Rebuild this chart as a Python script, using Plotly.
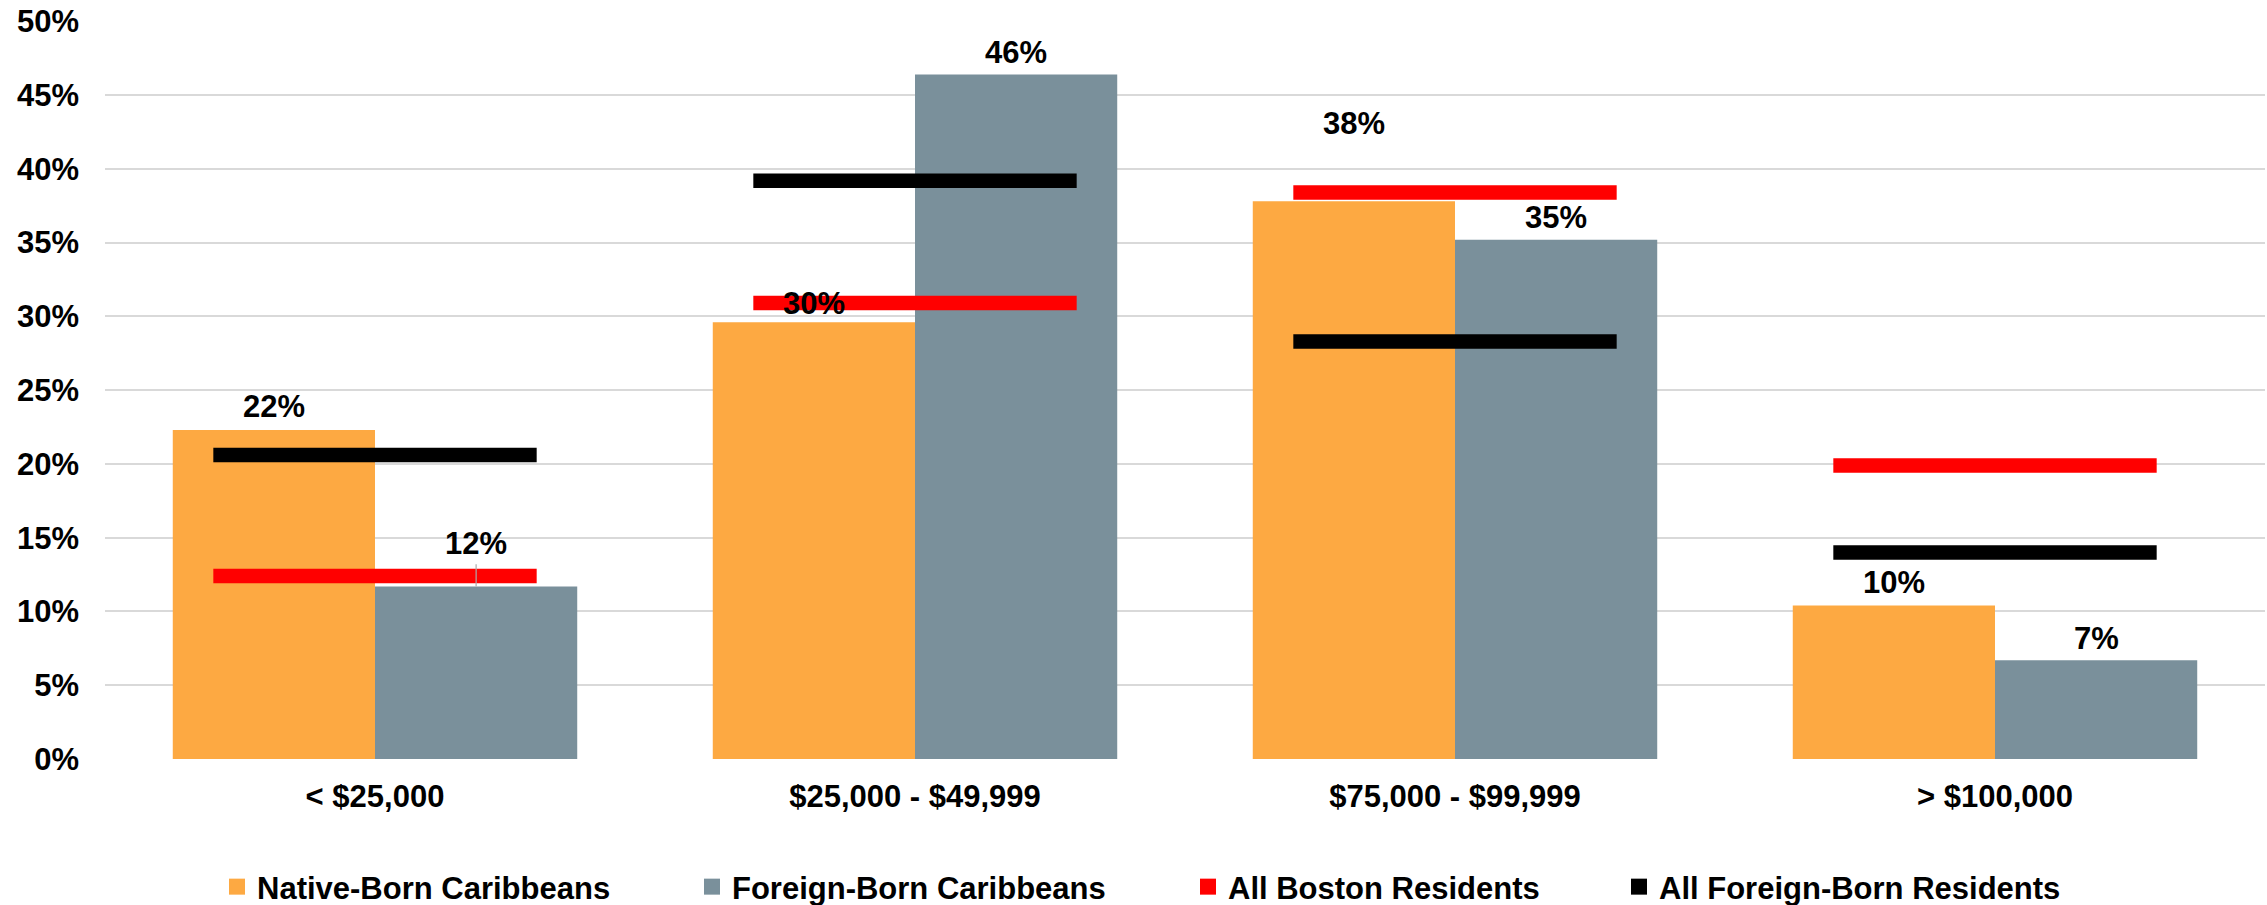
import plotly.graph_objects as go

# ---------------- data ----------------
categories = ["< $25,000", "$25,000 - $49,999", "$75,000 - $99,999", "> $100,000"]
native_born = [22.3, 29.6, 37.8, 10.4]
foreign_born = [11.7, 46.4, 35.2, 6.7]
all_boston = [12.4, 30.9, 38.4, 19.9]
all_foreign_born = [20.6, 39.2, 28.3, 14.0]
y_ticks = [0, 5, 10, 15, 20, 25, 30, 35, 40, 45, 50]
y_tick_labels = [f"{t}%" for t in y_ticks]

series_names = ["Native-Born Caribbeans", "Foreign-Born Caribbeans",
                "All Boston Residents", "All Foreign-Born Residents"]
colors = ["#FDA942", "#7A909B", "#FF0000", "#000000"]

# label vertical offsets (px) as placed in the original
native_shift = [23, 19, 78, 23]
foreign_shift = [43, 22, 22, 22]

FONT = "Liberation Sans, Arial, sans-serif"
FS = 31
BAR_W = 0.3745
LINE_HALF = 0.2994

W, H = 2267, 905

xs = list(range(len(categories)))

fig = go.Figure()

fig.add_trace(go.Bar(x=xs, y=native_born, width=BAR_W, offset=-BAR_W,
                     marker=dict(color=colors[0], line=dict(width=0)),
                     showlegend=False, hoverinfo="skip"))
fig.add_trace(go.Bar(x=xs, y=foreign_born, width=BAR_W, offset=0,
                     marker=dict(color=colors[1], line=dict(width=0)),
                     showlegend=False, hoverinfo="skip"))


def seg(vals):
    lx, ly = [], []
    for i, v in enumerate(vals):
        lx += [i - LINE_HALF, i + LINE_HALF, None]
        ly += [v, v, None]
    return lx, ly


for vals, col in [(all_boston, colors[2]), (all_foreign_born, colors[3])]:
    lx, ly = seg(vals)
    fig.add_trace(go.Scatter(x=lx, y=ly, mode="lines",
                             line=dict(color=col, width=14.5),
                             showlegend=False, hoverinfo="skip"))

# thin leader line from the first foreign-born bar to its label
fig.add_trace(go.Scatter(x=[xs[0] + BAR_W / 2, xs[0] + BAR_W / 2],
                         y=[foreign_born[0], foreign_born[0] + 1.5],
                         mode="lines", line=dict(color="#aaaaaa", width=1.2),
                         showlegend=False, hoverinfo="skip"))

# legend entries
legend_widths = [430, 451, 386, 411]
for name, col, lw in zip(series_names, colors, legend_widths):
    fig.add_trace(go.Scatter(x=[None], y=[None], mode="markers", name=name,
                             marker=dict(symbol="square", size=16, color=col),
                             legendwidth=lw))

label_font = dict(family=FONT, size=FS, color="#000000", weight="bold")

# data labels
for i, v in enumerate(native_born):
    fig.add_annotation(x=i - BAR_W / 2, y=v, text=f"{round(v)}%", showarrow=False,
                       yanchor="middle", yshift=native_shift[i], font=label_font)
for i, v in enumerate(foreign_born):
    fig.add_annotation(x=i + BAR_W / 2, y=v, text=f"{round(v)}%", showarrow=False,
                       yanchor="middle", yshift=foreign_shift[i], font=label_font)

fig.update_layout(
    width=W, height=H,
    margin=dict(l=105, r=2, t=21, b=146, autoexpand=False),
    paper_bgcolor="white", plot_bgcolor="white",
    font=label_font,
    barmode="overlay",
    xaxis=dict(range=[-0.5, 3.5], tickvals=xs, ticktext=categories,
               showgrid=False, zeroline=False, showline=False, ticks="",
               ticklabelstandoff=16, automargin=False, ticklabeloverflow="allow",
               tickfont=label_font),
    yaxis=dict(range=[0, 50.02], tickvals=y_ticks, ticktext=y_tick_labels,
               showgrid=True, gridcolor="#D9D9D9", gridwidth=2,
               zeroline=False, showline=False, ticks="",
               ticklabelstandoff=25, automargin=False, ticklabeloverflow="allow",
               tickfont=label_font),
    legend=dict(orientation="h", xref="container", yref="container",
                x=217 / W, xanchor="left", y=1 - 887 / H, yanchor="middle",
                font=label_font, bgcolor="rgba(0,0,0,0)"),
    showlegend=True,
)

# remove the browser's default 8px page margin so the figure fills the window
fig.write_html("out.html",
               config={"displayModeBar": False},
               post_script="document.body.style.margin='0';"
                           "document.body.style.overflow='hidden';")
